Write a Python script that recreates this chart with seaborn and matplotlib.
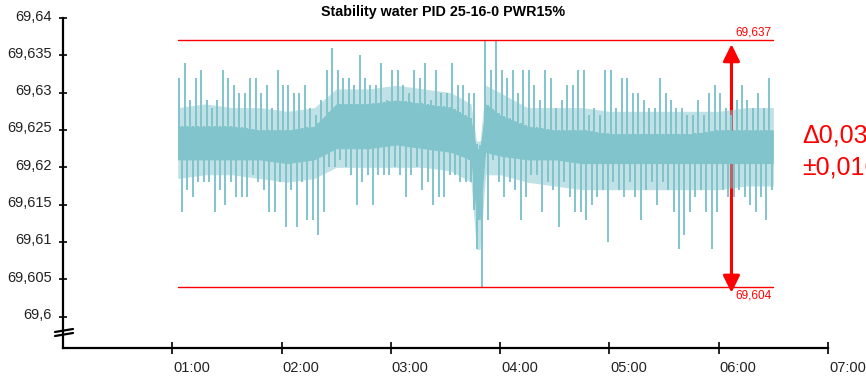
import numpy as np
import pandas as pd
import matplotlib
matplotlib.use("Agg")
import matplotlib.pyplot as plt
import matplotlib.transforms as mtrans
import seaborn as sns

# ---------------- data (temperatures) ----------------
TITLE = "Stability water PID 25-16-0 PWR15%"
t_start, t_step = 63, 3          # minutes after 00:00, sampling bin width (min)

# extreme high / low reached inside each 3-minute bin
spike_hi = [69.632, 69.634, 69.629, 69.632, 69.633, 69.629, 69.628, 69.629, 69.633, 69.632,
            69.631, 69.630, 69.630, 69.632, 69.632, 69.630, 69.631, 69.628, 69.633, 69.631,
            69.631, 69.630, 69.630, 69.631, 69.628, 69.627, 69.629, 69.633, 69.636, 69.633,
            69.632, 69.632, 69.631, 69.635, 69.632, 69.631, 69.631, 69.634, 69.629, 69.633,
            69.633, 69.631, 69.630, 69.633, 69.632, 69.634, 69.629, 69.633, 69.630, 69.630,
            69.634, 69.631, 69.631, 69.630, 69.630, 69.623, 69.637, 69.633, 69.637, 69.633,
            69.632, 69.633, 69.630, 69.633, 69.633, 69.631, 69.629, 69.633, 69.632, 69.628,
            69.629, 69.631, 69.631, 69.633, 69.633, 69.627, 69.628, 69.627, 69.633, 69.633,
            69.628, 69.632, 69.632, 69.630, 69.630, 69.629, 69.628, 69.628, 69.632, 69.630,
            69.629, 69.628, 69.628, 69.627, 69.627, 69.629, 69.627, 69.630, 69.631, 69.630,
            69.628, 69.627, 69.629, 69.631, 69.629, 69.628, 69.630, 69.628, 69.632]

spike_lo = [69.614, 69.617, 69.616, 69.618, 69.618, 69.618, 69.614, 69.617, 69.615, 69.618,
            69.616, 69.616, 69.616, 69.619, 69.618, 69.617, 69.614, 69.614, 69.618, 69.612,
            69.617, 69.612, 69.618, 69.613, 69.613, 69.611, 69.614, 69.620, 69.620, 69.621,
            69.620, 69.619, 69.615, 69.618, 69.619, 69.615, 69.619, 69.619, 69.619, 69.620,
            69.619, 69.616, 69.619, 69.620, 69.617, 69.618, 69.615, 69.616, 69.616, 69.619,
            69.619, 69.618, 69.618, 69.618, 69.609, 69.604, 69.613, 69.621, 69.618, 69.616,
            69.618, 69.617, 69.613, 69.616, 69.619, 69.619, 69.614, 69.618, 69.617, 69.612,
            69.618, 69.616, 69.614, 69.614, 69.613, 69.615, 69.616, 69.617, 69.610, 69.618,
            69.617, 69.616, 69.618, 69.616, 69.613, 69.617, 69.618, 69.615, 69.618, 69.617,
            69.614, 69.609, 69.611, 69.614, 69.616, 69.617, 69.614, 69.609, 69.614, 69.617,
            69.616, 69.616, 69.617, 69.616, 69.615, 69.614, 69.616, 69.613, 69.617]

# dense part of the trace (solid) and the half-filled fringe, read at these times
knot_t = [63, 78, 93, 108, 123, 138, 150, 168, 183, 198, 213, 224, 227, 229, 232,
          240, 255, 270, 285, 300, 315, 330, 345, 360, 375, 390]
core_hi = [69.6255, 69.6255, 69.6255, 69.6250, 69.6250, 69.6255, 69.6285, 69.6285, 69.6290,
           69.6285, 69.6280, 69.6265, 69.6225, 69.6225, 69.6285, 69.6270, 69.6255, 69.6250,
           69.6250, 69.6245, 69.6245, 69.6245, 69.6245, 69.6250, 69.6250, 69.6250]
core_lo = [69.6210, 69.6210, 69.6210, 69.6210, 69.6205, 69.6210, 69.6225, 69.6225, 69.6230,
           69.6225, 69.6220, 69.6210, 69.6130, 69.6130, 69.6220, 69.6215, 69.6210, 69.6210,
           69.6205, 69.6205, 69.6205, 69.6205, 69.6205, 69.6205, 69.6205, 69.6205]
fringe_hi = [69.6280, 69.6285, 69.6280, 69.6280, 69.6275, 69.6280, 69.6305, 69.6305, 69.6310,
             69.6305, 69.6300, 69.6285, 69.6235, 69.6235, 69.6310, 69.6300, 69.6280, 69.6280,
             69.6280, 69.6275, 69.6275, 69.6275, 69.6275, 69.6275, 69.6280, 69.6280]
fringe_lo = [69.6185, 69.6190, 69.6190, 69.6185, 69.6180, 69.6185, 69.6200, 69.6200, 69.6200,
             69.6200, 69.6195, 69.6180, 69.6090, 69.6090, 69.6190, 69.6190, 69.6180, 69.6175,
             69.6170, 69.6170, 69.6170, 69.6170, 69.6170, 69.6170, 69.6175, 69.6175]

band_max, band_min = 69.637, 69.604
band_labels = ["69,637", "69,604"]
band_text = ["\u03940,033", "\u00b10,0165"]
x_ticks_min = [60, 120, 180, 240, 300, 360, 420]
x_tick_labels = ["01:00", "02:00", "03:00", "04:00", "05:00", "06:00", "07:00"]
y_ticks = [69.600, 69.605, 69.610, 69.615, 69.620, 69.625, 69.630, 69.635, 69.640]
arrow_t = 367

# ---------------- styling ----------------
sns.set_theme(style="white")
plt.rcParams["font.family"] = ["Liberation Sans", "DejaVu Sans"]

TEAL = "#82c4cc"
RED = "#ff0000"

W, H = 866, 378
fig = plt.figure(figsize=(W / 100, H / 100), dpi=100)
ax = fig.add_axes([63 / W, 1 - 348 / H, (828 - 63) / W, (348 - 18) / H])

df = pd.DataFrame({"t": t_start + t_step * np.arange(len(spike_hi)) + t_step / 2,
                   "hi": spike_hi, "lo": spike_lo})
knots = pd.DataFrame({"t": knot_t, "core_hi": core_hi, "core_lo": core_lo,
                      "fr_hi": fringe_hi, "fr_lo": fringe_lo})
# where each spike starts (hidden inside the dense core)
df["base_hi"] = np.interp(df["t"], knots["t"], knots["core_hi"])
df["base_lo"] = np.interp(df["t"], knots["t"], knots["core_lo"])
limits = pd.DataFrame({"t": [knot_t[0], knot_t[-1], knot_t[0], knot_t[-1]],
                       "v": [band_max, band_max, band_min, band_min],
                       "which": ["max", "max", "min", "min"]})

# arrow behind data
arrow_style = "-|>,head_length=0.85,head_width=0.42"
ax.annotate("", xy=(arrow_t, band_max - 0.0005), xytext=(arrow_t, 69.6205),
            arrowprops=dict(arrowstyle=arrow_style, color=RED, lw=2.2,
                            shrinkA=0, shrinkB=0), zorder=1)
ax.annotate("", xy=(arrow_t, band_min - 0.0008), xytext=(arrow_t, 69.6205),
            arrowprops=dict(arrowstyle=arrow_style, color=RED, lw=2.2,
                            shrinkA=0, shrinkB=0), zorder=1)

# half-filled fringe, dense core, spikes
ax.fill_between(knots["t"], knots["fr_lo"], knots["fr_hi"],
                color=TEAL, alpha=0.5, lw=0, zorder=2)
ax.fill_between(knots["t"], knots["core_lo"], knots["core_hi"],
                color=TEAL, lw=0, zorder=2)
ax.vlines(df["t"] - 0.7, df["base_lo"], df["hi"], color=TEAL, lw=1.4, zorder=3)
ax.vlines(df["t"] + 0.7, df["lo"], df["base_hi"], color=TEAL, lw=1.4, zorder=3)

# band limit lines
sns.lineplot(data=limits, x="t", y="v", units="which", estimator=None,
             color=RED, lw=1.0, ax=ax, zorder=4, legend=False)
ax.text(knot_t[-1] - 1, band_max + 0.0002, band_labels[0], color=RED, fontsize=8.5,
        ha="right", va="bottom", zorder=5)
ax.text(knot_t[-1] - 1, band_min - 0.0004, band_labels[1], color=RED, fontsize=8.5,
        ha="right", va="top", zorder=5)

fig.text(802 / W, 1 - 135 / H, band_text[0], color=RED, fontsize=18, ha="left", va="center")
fig.text(802 / W, 1 - 167 / H, band_text[1], color=RED, fontsize=18, ha="left", va="center")

# axes
ax.set_xlim(0, 420)
ax.set_ylim(69.5958, 69.640)
ax.set_xlabel("")
ax.set_ylabel("")
for s in ["top", "right"]:
    ax.spines[s].set_visible(False)
for s in ["left", "bottom"]:
    ax.spines[s].set_color("black")
    ax.spines[s].set_linewidth(1.6)

ax.set_xticks(x_ticks_min)
ax.set_xticklabels(x_tick_labels)
ax.set_yticks(y_ticks)
ax.set_yticklabels([f"{v:.3f}".rstrip("0").rstrip(".").replace(".", ",") for v in y_ticks])
ax.tick_params(axis="x", direction="inout", length=8, width=1.2, color="black",
               labelsize=10.5, labelcolor="#222222", pad=5, bottom=True)
ax.tick_params(axis="y", direction="inout", length=6, width=1.2, color="black",
               labelsize=10.5, labelcolor="#222222", pad=5, left=True)
for lab in ax.get_xticklabels():
    lab.set_ha("left")
    lab.set_transform(lab.get_transform() + mtrans.ScaledTranslation(1 / 100, 0, fig.dpi_scale_trans))
for lab in ax.get_yticklabels():
    lab.set_transform(lab.get_transform() + mtrans.ScaledTranslation(0, 3 / 100, fig.dpi_scale_trans))

# axis break symbol
for dy in (0, 4):
    ax.plot([(55 - 63) / 765, (73 - 63) / 765],
            [(348 - (332 + dy)) / 330, (348 - (329 + dy)) / 330],
            transform=ax.transAxes, color="black", lw=1.6, clip_on=False, zorder=6)

fig.text(443 / W, 1 - 12 / H, TITLE, fontsize=10.3, fontweight="bold",
         ha="center", va="center", color="black")

fig.savefig("out.png", dpi=100)
